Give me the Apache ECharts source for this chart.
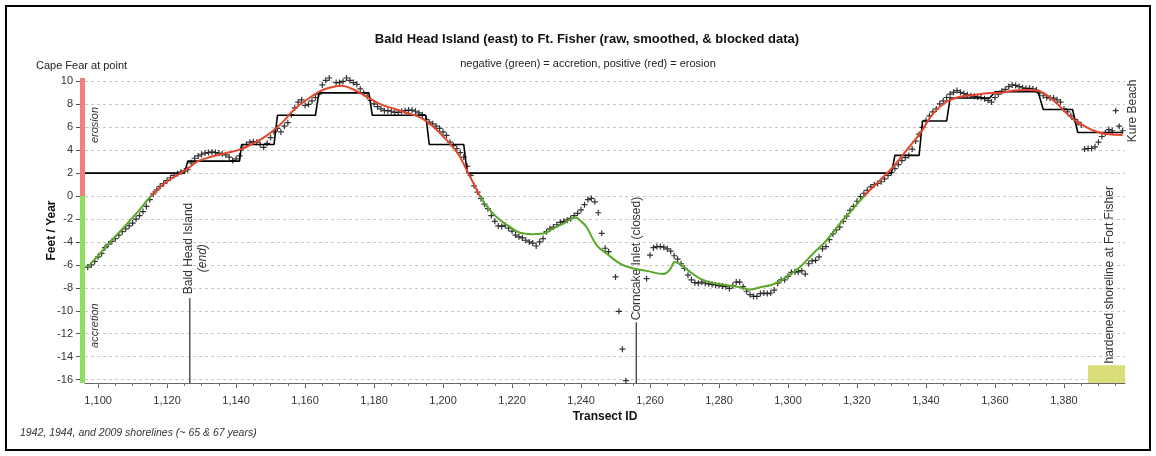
<!DOCTYPE html>
<html>
<head>
<meta charset="utf-8">
<script src="https://cdn.jsdelivr.net/npm/echarts@6/dist/echarts.min.js"></script>
<style>
  html, body { margin: 0; padding: 0; background: #fff; }
  #chart { width: 1156px; height: 456px; }
</style>
</head>
<body>
<div id="chart"></div>
<script>
// Shoreline change rate (ft/yr) by transect, Bald Head Island (east) to Ft. Fisher

// Raw rates, one per transect
const rawTransect = [
  1097,1098,1099,1100,1101,1102,1103,1104,1105,1106,1107,1108,1109,1110,1111,1112,1113,1114,1115,1116,
  1117,1118,1119,1120,1121,1122,1123,1124,1125,1126,1127,1128,1129,1130,1131,1132,1133,1134,1135,1136,
  1137,1138,1139,1140,1141,1142,1143,1144,1145,1146,1147,1148,1149,1150,1151,1152,1153,1154,1155,1156,
  1157,1158,1159,1160,1161,1162,1163,1164,1165,1166,1167,1168,1169,1170,1171,1172,1173,1174,1175,1176,
  1177,1178,1179,1180,1181,1182,1183,1184,1185,1186,1187,1188,1189,1190,1191,1192,1193,1194,1195,1196,
  1197,1198,1199,1200,1201,1202,1203,1204,1205,1206,1207,1208,1209,1210,1211,1212,1213,1214,1215,1216,
  1217,1218,1219,1220,1221,1222,1223,1224,1225,1226,1227,1228,1229,1230,1231,1232,1233,1234,1235,1236,
  1237,1238,1239,1240,1241,1242,1243,1244,1245,1246,1247,1248,1250,1251,1252,1253,
  1259,1260,1261,1262,1263,1264,1265,1266,1267,1268,1269,1270,1271,1272,1273,1274,1275,1276,1277,1278,
  1279,1280,1281,1282,1283,1284,1285,1286,1287,1288,1289,1290,1291,1292,1293,1294,1295,1296,1297,1298,
  1299,1300,1301,1302,1303,1304,1305,1306,1307,1308,1309,1310,1311,1312,1313,1314,1315,1316,1317,1318,
  1319,1320,1321,1322,1323,1324,1325,1326,1327,1328,1329,1330,1331,1332,1333,1334,1335,1336,1337,1338,
  1339,1340,1341,1342,1343,1344,1345,1346,1347,1348,1349,1350,1351,1352,1353,1354,1355,1356,1357,1358,
  1359,1360,1361,1362,1363,1364,1365,1366,1367,1368,1369,1370,1371,1372,1373,1374,1375,1376,1377,1378,
  1379,1380,1381,1382,1383,1384,1385,1386,1387,1388,1389,1390,1391,1392,1393,1394,1395,1396,1397
];
const rawRate = [
  -6.2,-6.0,-5.7,-5.3,-5.0,-4.5,-4.2,-3.95,-3.7,-3.4,-3.1,-2.85,-2.6,-2.35,-2.0,-1.7,-1.35,-0.9,-0.3,0.2,
  0.55,0.85,1.1,1.35,1.6,1.8,1.95,2.1,2.2,2.3,2.9,3.3,3.5,3.65,3.75,3.8,3.85,3.8,3.75,3.7,
  3.6,3.4,3.1,3.25,3.5,4.2,4.5,4.7,4.75,4.7,4.5,4.25,4.6,5.1,5.6,5.9,5.6,6.1,6.4,7.1,
  7.7,8.2,8.4,7.9,8.0,8.3,8.6,8.9,9.7,10.1,10.3,10.4,9.9,9.9,10.0,10.3,10.1,9.9,9.75,9.35,
  9.0,8.7,8.35,8.05,7.8,7.6,7.45,7.45,7.4,7.3,7.3,7.4,7.45,7.5,7.5,7.4,7.25,7.1,6.7,6.45,
  6.3,6.1,5.9,5.6,5.3,4.7,4.4,4.15,3.8,3.4,2.6,1.8,0.9,0.35,-0.2,-0.7,-1.1,-1.7,-2.2,-2.6,
  -2.65,-2.55,-2.8,-3.05,-3.4,-3.55,-3.65,-3.85,-4.0,-4.1,-4.35,-4.0,-3.7,-3.1,-2.85,-2.7,-2.5,-2.3,-2.2,-2.1,
  -1.95,-1.7,-1.5,-1.2,-0.75,-0.3,-0.2,-0.5,-1.45,-3.25,-4.55,-4.85,-7.05,-10.05,-13.35,-16.1,
  -7.2,-5.15,-4.5,-4.4,-4.4,-4.45,-4.6,-4.8,-5.2,-5.5,-5.9,-6.3,-6.9,-7.3,-7.55,-7.6,-7.5,-7.6,-7.65,-7.7,
  -7.75,-7.8,-7.85,-7.9,-8.05,-7.8,-7.5,-7.5,-7.9,-8.3,-8.6,-8.75,-8.75,-8.5,-8.45,-8.5,-8.45,-8.2,-7.6,-7.3,
  -7.3,-7.0,-6.65,-6.6,-6.6,-6.5,-6.8,-5.9,-5.65,-5.6,-5.3,-4.6,-4.4,-3.8,-3.3,-2.95,-2.7,-2.2,-1.75,-1.25,
  -0.9,-0.45,-0.05,0.25,0.5,0.8,1.0,1.1,1.25,1.5,1.8,2.05,2.4,2.75,3.1,3.35,3.55,4.1,4.8,5.4,
  6.0,6.6,7.0,7.35,7.6,8.05,8.3,8.6,8.9,9.05,9.2,9.05,8.95,8.85,8.75,8.7,8.65,8.6,8.5,8.35,
  8.2,8.6,8.9,9.15,9.3,9.55,9.7,9.65,9.55,9.45,9.4,9.4,9.35,9.25,9.0,8.75,8.6,8.55,8.55,8.4,
  8.2,7.6,7.35,7.0,6.7,6.45,6.2,4.1,4.15,4.15,4.3,4.7,5.2,5.5,5.8,5.7,7.45,6.1,5.7
];

// Smoothed rates
const smoothTransect = [
  1097,1100,1103,1106,1109,1112,1115,1118,1121,1124,1126,1129,1133,1137,1141,1145,1149,1153,1157,1160.5,
  1164,1167,1170.5,1174,1178,1182,1186,1190,1193.5,1197,1201,1204.5,1207.3,1209,1210.5,1212,1213.6,1216.5,1219.4,1222.3,
  1226,1229,1232,1235,1238.3,1240,1241.6,1244.5,1247.4,1251.3,1255.2,1259,1263.9,1265.8,1267.2,1268.7,1271.6,1274.5,1278.4,1282.2,
  1286,1289,1292,1295.8,1299.6,1303.5,1307.3,1311.2,1315.1,1318.9,1322.8,1326.7,1330.5,1334.4,1338.3,1342.1,1346,1349.9,1353.7,1357.6,
  1361.5,1365.3,1369.2,1372.1,1375,1377.9,1380.8,1383.7,1386.6,1389.5,1392.4,1397
];
const smoothRate = [
  -6.2,-5.2,-4.2,-3.2,-2.2,-1.2,-0.1,0.8,1.5,2.0,2.4,3.05,3.45,3.75,4.05,4.6,5.3,6.3,7.6,8.4,
  9.1,9.45,9.62,9.3,8.65,8.0,7.6,7.2,6.85,6.1,4.9,3.6,2.0,1.0,0.1,-0.6,-1.22,-2.09,-2.68,-3.2,
  -3.32,-3.26,-2.82,-2.38,-1.86,-2.2,-2.7,-4.28,-5.0,-5.88,-6.32,-6.52,-6.8,-6.4,-5.75,-5.94,-6.6,-7.19,-7.6,-7.77,
  -7.95,-8.15,-7.95,-7.69,-7.05,-6.18,-5.01,-3.85,-2.39,-1.08,0.23,1.39,2.56,4.01,5.47,7.22,8.23,8.67,8.82,8.96,
  9.02,9.2,9.25,9.2,8.82,8.09,7.22,6.49,6.0,5.61,5.41,5.32
];

// Blocked rates (edges of each block)
const blockTransect = [
  1096.2,1125,1126,1141,1141.6,1151,1152,1163,1164,1178.5,1179.5,1195,1196,1206,1207,1330,
  1331,1338,1339,1346,1347,1358.5,1360,1372.5,1374,1382.5,1384,1397
];
const blockRate = [
  2,2,3.05,3.05,4.5,4.5,7.05,7.05,9,9,7.05,7.05,4.5,4.5,2,2,
  3.55,3.55,6.55,6.55,8.55,8.55,9.1,9.1,7.55,7.55,5.55,5.55
];

// Axis ticks
const yTicks = [-16,-14,-12,-10,-8,-6,-4,-2,0,2,4,6,8,10];
const xTicks = [1100,1120,1140,1160,1180,1200,1220,1240,1260,1280,1300,1320,1340,1360,1380];
const xMinorTicks = [];
for (let t = 1100; t <= 1395; t += 5) xMinorTicks.push(t);

const X_MIN = 1096.2, X_MAX = 1397.7, Y_MIN = -16.3, Y_MAX = 10.3;
const FONT = '"Liberation Sans", Arial, sans-serif';
const GREEN = '#5aa829', RED = '#e4452c';

const chart = echarts.init(document.getElementById('chart'));

const zip = (xs, ys) => xs.map((x, i) => [x, ys[i]]);
const fmt = v => String(v).replace(/\B(?=(\d{3})+(?!\d))/g, ',');

chart.setOption({
  animation: false,
  backgroundColor: '#fff',
  title: [
    {
      text: 'Bald Head Island (east) to Ft. Fisher (raw, smoothed, & blocked data)',
      left: 582, top: 28, textAlign: 'center',
      textStyle: { fontFamily: FONT, fontSize: 13, fontWeight: 'bold', color: '#111' }
    },
    {
      text: 'negative (green) = accretion, positive (red) = erosion',
      left: 583, top: 53, textAlign: 'center',
      textStyle: { fontFamily: FONT, fontSize: 11, fontWeight: 'normal', color: '#222' }
    }
  ],
  grid: { left: 85, right: 31, top: 78, bottom: 73, containLabel: false },
  xAxis: [
    {
      type: 'value', min: X_MIN, max: X_MAX,
      axisLine: { show: true, onZero: false, lineStyle: { color: '#666', width: 1 } },
      axisTick: { show: true, customValues: xTicks, length: 5, lineStyle: { color: '#555' } },
      axisLabel: { customValues: xTicks, formatter: fmt, margin: 12, color: '#333', fontFamily: FONT, fontSize: 11 },
      splitLine: { show: false },
      name: 'Transect ID', nameLocation: 'middle', nameGap: 28,
      nameTextStyle: { fontFamily: FONT, fontSize: 12, fontWeight: 'bold', color: '#111' }
    },
    {
      type: 'value', min: X_MIN, max: X_MAX, position: 'bottom',
      axisLine: { show: false, onZero: false },
      axisTick: { show: true, customValues: xMinorTicks, length: 3, lineStyle: { color: '#777' } },
      axisLabel: { show: false },
      splitLine: { show: false }
    }
  ],
  yAxis: {
    type: 'value', min: Y_MIN, max: Y_MAX,
    axisLine: { show: false },
    axisTick: { show: true, customValues: yTicks, length: 9, lineStyle: { color: '#555' } },
    axisLabel: { customValues: yTicks, margin: 12, color: '#333', fontFamily: FONT, fontSize: 11 },
    splitLine: { show: true, lineStyle: { color: '#c8c8c8', type: [3, 3], width: 1 } },
    name: 'Feet / Year', nameLocation: 'middle', nameGap: 27, nameMoveOverlap: false,
    nameTextStyle: { fontFamily: FONT, fontSize: 12, fontWeight: 'bold', color: '#111' }
  },
  series: [
    {
      name: 'blocked', type: 'line', data: zip(blockTransect, blockRate),
      showSymbol: false, lineStyle: { color: '#000', width: 1.6 }, z: 2,
      markArea: {
        silent: true,
        itemStyle: { color: 'rgba(212,216,96,0.85)' },
        data: [[{ coord: [1387, -14.75] }, { coord: [X_MAX, Y_MIN] }]]
      }
    },
    {
      name: 'raw', type: 'scatter', data: zip(rawTransect, rawRate),
      symbol: 'path://M0,5L10,5M5,0L5,10', symbolSize: 6,
      itemStyle: { color: 'none', borderColor: '#000', borderWidth: 1.2 }, z: 3
    },
    {
      name: 'smoothed', type: 'line', data: zip(smoothTransect, smoothRate),
      smooth: 0.4, showSymbol: false, lineStyle: { width: 2, color: RED }, z: 4
    }
  ]
});

// Annotations and colouring placed through the grid's own coordinate system
function px(t, v) { return chart.convertToPixel({ gridIndex: 0 }, [t, v]); }
const top0 = px(X_MIN, Y_MAX), zero = px(X_MIN, 0), bot0 = px(X_MIN, Y_MIN);

// Smoothed line: red above zero (erosion), green below (accretion)
const split = (zero[1] - top0[1]) / (bot0[1] - top0[1]);
chart.setOption({
  series: [{}, {}, {
    lineStyle: {
      width: 2,
      color: new echarts.graphic.LinearGradient(0, top0[1], 0, bot0[1], [
        { offset: 0, color: RED }, { offset: split, color: RED },
        { offset: split, color: GREEN }, { offset: 1, color: GREEN }
      ], true)
    }
  }]
});

const bhiTop = px(1126.6, -8.9), bhiBot = px(1126.6, Y_MIN);
const ccTop = px(1256, -11.0), ccBot = px(1256, Y_MIN);
const fortLbl = px(1393.3, -14.6);
const kureLbl = px(1400, 4.7);
const erosionLbl = px(X_MIN, 6.2), accretionLbl = px(X_MIN, -11.3);
const R = Math.PI / 2;
const txt = (x, y, text, extra) => ({
  type: 'text', x, y, rotation: R,
  style: Object.assign({ text, fontFamily: FONT, fontSize: 12, fill: '#333', align: 'left', verticalAlign: 'middle' }, extra || {})
});

chart.setOption({
  graphic: [
    { type: 'rect', shape: { x: 6, y: 6, width: 1144, height: 444 }, style: { fill: 'none', stroke: '#000', lineWidth: 2 }, z: 10 },
    { type: 'rect', shape: { x: zero[0] - 5, y: top0[1], width: 5, height: zero[1] - top0[1] }, style: { fill: '#f08080' }, z: 5 },
    { type: 'rect', shape: { x: zero[0] - 5, y: zero[1], width: 5, height: bot0[1] - zero[1] }, style: { fill: '#8ee05c' }, z: 5 },
    { type: 'text', x: 36, y: 66, style: { text: 'Cape Fear at point', fontFamily: FONT, fontSize: 11, fill: '#222', align: 'left', verticalAlign: 'middle' } },
    txt(erosionLbl[0] + 10, erosionLbl[1], 'erosion', { align: 'center', fontStyle: 'italic', fontSize: 11 }),
    txt(accretionLbl[0] + 10, accretionLbl[1], 'accretion', { align: 'center', fontStyle: 'italic', fontSize: 11 }),
    { type: 'line', shape: { x1: bhiTop[0], y1: bhiTop[1], x2: bhiBot[0], y2: bhiBot[1] }, style: { stroke: '#000', lineWidth: 1 } },
    { type: 'line', shape: { x1: ccTop[0], y1: ccTop[1], x2: ccBot[0], y2: ccBot[1] }, style: { stroke: '#000', lineWidth: 1 } },
    txt(bhiTop[0] - 1, bhiTop[1] - 4, 'Bald Head Island'),
    txt(bhiTop[0] + 13, bhiTop[1] - 40, '(end)', { align: 'center', fontStyle: 'italic' }),
    txt(ccTop[0], ccTop[1] - 2, 'Corncake Inlet (closed)'),
    txt(fortLbl[0], fortLbl[1], 'hardened shoreline at Fort Fisher'),
    txt(kureLbl[0], kureLbl[1], 'Kure Beach'),
    { type: 'text', x: 20, y: 433, style: { text: '1942, 1944, and 2009 shorelines (~ 65 & 67 years)', fontFamily: FONT, fontSize: 10.5, fontStyle: 'italic', fill: '#333', align: 'left', verticalAlign: 'middle' } }
  ]
});
</script>
</body>
</html>
